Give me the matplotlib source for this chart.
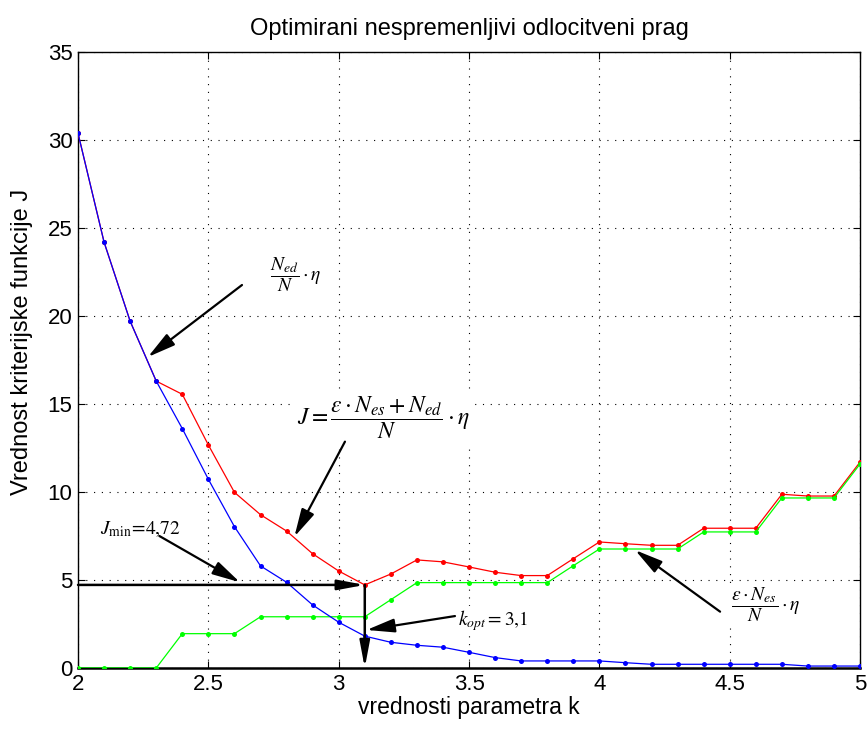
import numpy as np
import matplotlib
matplotlib.use("Agg")
import matplotlib.pyplot as plt

plt.rcParams['font.family'] = ['Liberation Sans', 'DejaVu Sans']
plt.rcParams['mathtext.fontset'] = 'stix'

# Threshold parameter k
k_values = np.round(np.arange(2.0, 5.0001, 0.1), 1)

# N_ed / N * eta  (missed detections part)
missed_part = [30.38, 24.19, 19.70, 16.30, 13.60, 10.72, 8.03, 5.80, 4.87, 3.58,
               2.60, 1.81, 1.46, 1.29, 1.18, 0.89, 0.59, 0.40, 0.40, 0.40,
               0.40, 0.30, 0.21, 0.21, 0.21, 0.21, 0.21, 0.21, 0.11, 0.11, 0.11]

# eps * N_es / N * eta  (false alarms part)
false_part = [0.00, 0.00, 0.00, 0.00, 1.95, 1.95, 1.95, 2.91, 2.91, 2.91,
              2.91, 2.91, 3.88, 4.85, 4.85, 4.85, 4.85, 4.85, 4.85, 5.81,
              6.76, 6.76, 6.76, 6.76, 7.73, 7.73, 7.73, 9.66, 9.66, 9.66, 11.59]

x_ticks = [2, 2.5, 3, 3.5, 4, 4.5, 5]
x_tick_labels = ['2', '2.5', '3', '3.5', '4', '4.5', '5']
y_ticks = [0, 5, 10, 15, 20, 25, 30, 35]

missed = np.array(missed_part)
false = np.array(false_part)
total = missed + false

i_opt = int(np.argmin(total))
k_opt = k_values[i_opt]
J_min = total[i_opt]

fig = plt.figure(figsize=(8.67, 7.29), dpi=100)
ax = fig.add_axes([0.09, 0.0837, 0.902, 0.845])

line_kw = dict(lw=0.9, marker='o', markersize=3.6, markeredgewidth=0)
ax.plot(k_values, total, color='#ff0000', zorder=3, **line_kw)
ax.plot(k_values, false, color='#00ff00', zorder=3, **line_kw)
ax.plot(k_values, missed, color='#0000ff', zorder=4, **line_kw)

ax.set_xlim(2, 5)
ax.set_ylim(0, 35)
ax.set_xticks(x_ticks)
ax.set_xticklabels(x_tick_labels)
ax.set_yticks(y_ticks)
ax.tick_params(direction='in', length=5, width=0.8, labelsize=16,
               top=True, right=True, pad=4)
ax.grid(True, color='black', linestyle=(0, (1, 6)), linewidth=0.8)
ax.set_axisbelow(True)
for side in ['left', 'right', 'top']:
    ax.spines[side].set_linewidth(1.0)
ax.spines['bottom'].set_linewidth(1.8)

ax.set_title('Optimirani nespremenljivi odlocitveni prag', fontsize=17, pad=12)
ax.set_xlabel('vrednosti parametra k', fontsize=16.5, labelpad=1)
ax.set_ylabel('Vrednost kriterijske funkcije J', fontsize=17)
ax.yaxis.set_label_coords(-0.058, 0.53)

arrow_kw = dict(arrowstyle='-|>,head_length=1.7,head_width=0.42',
                color='black', lw=1.6, mutation_scale=10, shrinkA=0, shrinkB=0)
line_arrow_kw = dict(arrowstyle='-|>,head_length=1.6,head_width=0.3',
                     color='black', lw=1.8, mutation_scale=10, shrinkA=0, shrinkB=0)

# optimum: horizontal and vertical arrows
ax.annotate('', xy=(k_opt, J_min), xytext=(2.0, J_min),
            arrowprops=line_arrow_kw, zorder=6, annotation_clip=False)
ax.annotate('', xy=(k_opt, 0), xytext=(k_opt, J_min),
            arrowprops=line_arrow_kw, zorder=6, annotation_clip=False)

box = dict(facecolor='white', edgecolor='none', pad=2)
fs = 14

ax.text(2.836, 22.33, r'$\dfrac{N_{ed}}{N}\cdot\eta$', fontsize=fs,
        ha='center', va='center', bbox=box, zorder=5)
ax.annotate('', xy=(2.268, 17.67), xytext=(2.629, 21.76), arrowprops=arrow_kw, zorder=6)

ax.text(3.17, 14.2, r'$J=\dfrac{\varepsilon\cdot N_{es}+N_{ed}}{N}\cdot\eta$', fontsize=17,
        ha='center', va='center', bbox=box, zorder=5)
ax.annotate('', xy=(2.830, 7.46), xytext=(3.024, 12.86), arrowprops=arrow_kw, zorder=6)

jmin_label = r'$J_{\mathrm{min}}\!=\!%s$' % ('%.2f' % J_min).replace('.', '{,}')
ax.text(2.238, 7.9, jmin_label, fontsize=fs, ha='center', va='center', zorder=5)
ax.annotate('', xy=(2.621, 4.87), xytext=(2.312, 7.5), arrowprops=arrow_kw, zorder=6)

kopt_label = r'$k_{opt}=%s$' % ('%.1f' % k_opt).replace('.', '{,}')
ax.text(3.592, 2.67, kopt_label, fontsize=fs, ha='center', va='center', bbox=box, zorder=5)
ax.annotate('', xy=(3.107, 2.16), xytext=(3.446, 2.95), arrowprops=arrow_kw, zorder=6)

ax.text(4.639, 3.58, r'$\dfrac{\varepsilon\cdot N_{es}}{N}\cdot\eta$', fontsize=fs,
        ha='center', va='center', bbox=box, zorder=5)
ax.annotate('', xy=(4.137, 6.70), xytext=(4.463, 3.20), arrowprops=arrow_kw, zorder=6)

fig.savefig('out.png', dpi=100)
